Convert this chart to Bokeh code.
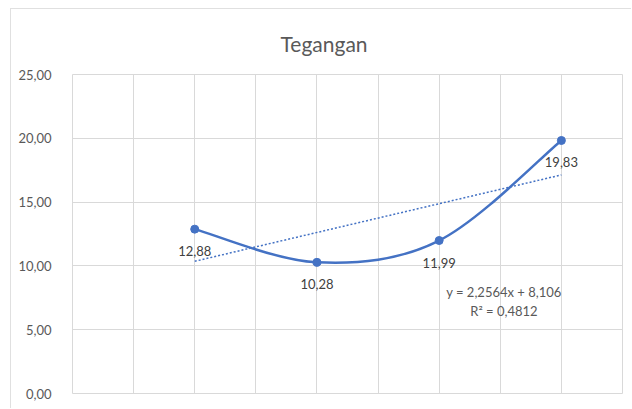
from bokeh.plotting import figure
from bokeh.models import FixedTicker, CustomJSTickFormatter, Label
from bokeh.core.properties import value
from bokeh.embed import file_html
from bokeh.resources import INLINE

# ---- data ----
title_text = "Tegangan"
x_vals = [1, 2, 3, 4]
y_vals = [12.88, 10.28, 11.99, 19.83]
y_ticks = [0, 5, 10, 15, 20, 25]
x_grid = [0, 0.5, 1, 1.5, 2, 2.5, 3, 3.5, 4, 4.5]
trend_slope = 2.2564
trend_intercept = 8.106
trend_r2 = 0.4812

BLUE = "#4472C4"
GRAY = "#595959"
DARK = "#404040"
GRID = "#D9D9D9"
FONT = "Lato"


def comma(v, d):
    return f"{v:.{d}f}".replace(".", ",")


p = figure(width=621, height=400, x_range=(0, 4.5), y_range=(0, 25),
           output_backend="svg", toolbar_location=None,
           min_border_left=61, min_border_right=10,
           min_border_top=65, min_border_bottom=16)
p.styles = {"margin-left": "10px", "margin-top": "8px",
            "border-left": "1px solid #e0e0e0", "border-top": "1px solid #e0e0e0"}

p.title.text = title_text
p.title.align = "left"
p.title.offset = 208
p.title.standoff = 37
p.title.text_font = FONT
p.title.text_font_size = "21px"
p.title.text_font_style = "normal"
p.title.text_color = GRAY

p.outline_line_color = GRID
p.background_fill_color = "white"
p.border_fill_color = "white"

p.xaxis.visible = False
p.xgrid.ticker = FixedTicker(ticks=x_grid)
p.xgrid.grid_line_color = GRID

yax = p.yaxis[0]
yax.ticker = FixedTicker(ticks=y_ticks)
yax.formatter = CustomJSTickFormatter(code="return tick.toFixed(2).replace('.', ',');")
yax.axis_line_color = None
yax.major_tick_line_color = None
yax.minor_tick_line_color = None
yax.major_label_standoff = 15
yax.major_label_text_font = FONT
yax.major_label_text_font_size = "13px"
yax.major_label_text_color = GRAY
p.ygrid.ticker = FixedTicker(ticks=y_ticks)
p.ygrid.grid_line_color = GRID

# trendline (linear, from the given coefficients)
tx = [min(x_vals), max(x_vals)]
ty = [trend_slope * v + trend_intercept for v in tx]
p.line(tx, ty, line_color=BLUE, line_width=1.5, line_dash="2 2")

# smoothed series line (Catmull-Rom style bezier segments through the points)
n = len(x_vals)


def pt(i):
    i = max(0, min(n - 1, i))
    return x_vals[i], y_vals[i]


bx0, by0, bx1, by1, bcx0, bcy0, bcx1, bcy1 = ([] for _ in range(8))
for i in range(n - 1):
    xa, ya = pt(i)
    xb, yb = pt(i + 1)
    xp, yp = pt(i - 1)
    xn, yn = pt(i + 2)
    bx0.append(xa); by0.append(ya)
    bx1.append(xb); by1.append(yb)
    bcx0.append(xa + (xb - xp) / 6); bcy0.append(ya + (yb - yp) / 6)
    bcx1.append(xb - (xn - xa) / 6); bcy1.append(yb - (yn - ya) / 6)

p.bezier(x0=bx0, y0=by0, x1=bx1, y1=by1, cx0=bcx0, cy0=bcy0, cx1=bcx1, cy1=bcy1,
         line_color=BLUE, line_width=2.5)
p.scatter(x_vals, y_vals, size=8, color=BLUE)

p.text(x=x_vals, y=y_vals, text=[comma(v, 2) for v in y_vals],
       text_align="center", text_baseline="top", y_offset=17,
       text_font=value(FONT), text_font_size="13px", text_color=DARK)

eq = f"y = {comma(trend_slope, 4)}x + {comma(trend_intercept, 3)}"
r2 = f"R\u00b2 = {comma(trend_r2, 4)}"
for txt, yy in ((eq, 7.92), (r2, 6.50)):
    p.add_layout(Label(x=3.53, y=yy, text=txt, text_align="center",
                       text_baseline="middle", text_font=FONT,
                       text_font_size="13px", text_color=GRAY))

open("out.html", "w").write(file_html(p, INLINE))
